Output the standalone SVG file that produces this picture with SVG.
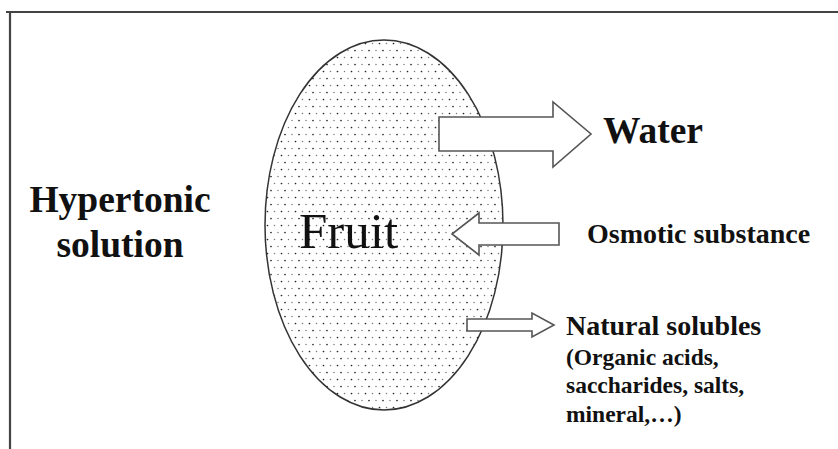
<svg xmlns="http://www.w3.org/2000/svg" width="838" height="449" viewBox="0 0 838 449">
<style>
.frame{stroke:#444;stroke-width:2.2;fill:none}
.arrow{fill:#fff;stroke:#555;stroke-width:1.6;stroke-linejoin:miter}
.b{font-family:"Liberation Serif","Times New Roman",serif;font-weight:bold;fill:#111}
.r{font-family:"Liberation Serif","Times New Roman",serif;fill:#111}
</style>
<defs>
<pattern id="dots" width="14" height="14" patternUnits="userSpaceOnUse">
<circle cx="1.5" cy="1.5" r="0.85" fill="#222"/>
<circle cx="8.5" cy="1.5" r="0.75" fill="#777"/>
<circle cx="5" cy="8.5" r="0.85" fill="#222"/>
<circle cx="12" cy="8.5" r="0.75" fill="#777"/>
</pattern>
</defs>
<rect width="838" height="449" fill="#fff"/>
<g id="frame">
<line class="frame" x1="6" y1="12" x2="838" y2="12"/>
<line class="frame" x1="10" y1="11" x2="10" y2="449"/>
</g>
<g id="fruit">
<ellipse cx="384" cy="225" rx="119" ry="185" fill="url(#dots)" stroke="#333" stroke-width="1.5"/>
<text class="r" x="299" y="248" font-size="51">Fruit</text>
</g>
<g id="hypertonic">
<text class="b" x="120" y="212" font-size="37.5" text-anchor="middle">Hypertonic</text>
<text class="b" x="120" y="257" font-size="37.5" text-anchor="middle">solution</text>
</g>
<g id="connectors">
<polygon class="arrow" points="439,117 553,117 553,102 591,134 553,167 553,151 439,151"/>
<polygon class="arrow" points="559,223 479,223 479,213 452,234 479,255 479,245 559,245"/>
<polygon class="arrow" points="467,319 532,319 532,313 554,325 532,337 532,331 467,331"/>
</g>
<g id="water">
<text class="b" x="603" y="143" font-size="37.5">Water</text>
</g>
<g id="osmotic">
<text class="b" x="587" y="243" font-size="28">Osmotic substance</text>
</g>
<g id="natural">
<text class="b" x="566" y="335" font-size="28">Natural solubles</text>
<text class="b" x="566" y="365" font-size="23.5">(Organic acids,</text>
<text class="b" x="566" y="393" font-size="23.5">saccharides, salts,</text>
<text class="b" x="566" y="422" font-size="23.5">mineral,…)</text>
</g>
</svg>
